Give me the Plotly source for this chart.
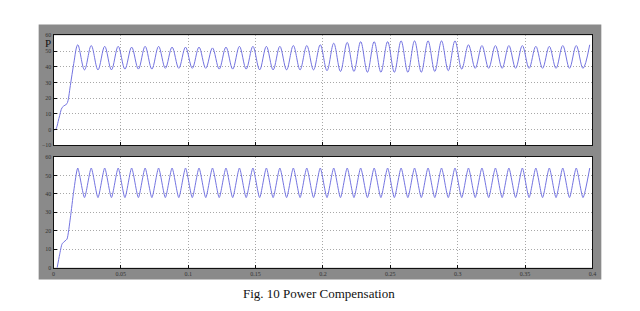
import plotly.graph_objects as go

# ---- data ----
x_ticks = [0, 0.05, 0.1, 0.15, 0.2, 0.25, 0.3, 0.35, 0.4]
x_tick_labels = ["0", "0.05", "0.1", "0.15", "0.2", "0.25", "0.3", "0.35", "0.4"]
top_y_ticks = [-10, 0, 10, 20, 30, 40, 50, 60]
bot_y_ticks = [0, 10, 20, 30, 40, 50, 60]

# start-up transient (time, value)
top_start_t = [0.0, 0.0015, 0.004, 0.0064, 0.0085, 0.010, 0.0125, 0.015]
top_start_v = [0.0, 0.0, 7.0, 14.0, 15.5, 16.5, 28.0, 42.0]
bot_start_t = [0.0027, 0.0045, 0.0064, 0.0085, 0.010, 0.0125, 0.015]
bot_start_v = [0.0, 7.0, 13.0, 14.5, 15.5, 27.0, 41.5]

# oscillation extrema (period 0.01 s, first peak at 0.018 s)
peak_t = [round(0.018 + 0.01 * k, 4) for k in range(39)]
trough_t = [round(0.023 + 0.01 * k, 4) for k in range(38)]

top_peaks = [54, 53.5, 53, 53, 52.5, 53, 53, 52.5, 52.5, 52.5,
             52, 52.5, 53, 53, 53, 53, 53.5, 53.5, 54, 55,
             55.5, 56, 56, 56, 56.5, 56.5, 56.5, 56.5, 56.5, 54,
             53.5, 53.5, 53.5, 53.5, 53, 53, 53.5, 53.5, 54]
top_troughs = [38, 38, 38, 38.5, 38.5, 38.5, 39, 39, 39, 39,
               38.5, 38.5, 38.5, 38, 38, 38, 38, 38, 37.5, 37,
               37, 36.5, 36.5, 36.5, 36.5, 36.5, 37, 37.5, 38.5, 39,
               39, 39, 39, 39, 39, 39, 39, 39]
bot_peaks = [54] * 39
bot_troughs = [38] * 38


def build(start_t, start_v, peaks, troughs):
    t = list(start_t)
    v = list(start_v)
    for k in range(len(peaks)):
        t.append(peak_t[k]); v.append(peaks[k])
        if k < len(troughs):
            t.append(trough_t[k]); v.append(troughs[k])
    return t, v


tt, tv = build(top_start_t, top_start_v, top_peaks, top_troughs)
bt, bv = build(bot_start_t, bot_start_v, bot_peaks, bot_troughs)

W, H = 640, 311
line_col = "#7373e0"

fig = go.Figure()
fig.add_trace(go.Scatter(x=tt, y=tv, mode="lines", line=dict(color=line_col, width=1, shape="spline", smoothing=1),
                         xaxis="x", yaxis="y", showlegend=False, hoverinfo="skip"))
fig.add_trace(go.Scatter(x=bt, y=bv, mode="lines", line=dict(color=line_col, width=1, shape="spline", smoothing=0.6),
                         xaxis="x2", yaxis="y2", showlegend=False, hoverinfo="skip"))

px0, px1 = 52, 596
top_y0, top_y1 = 33, 145
bot_y0, bot_y1 = 157, 270


def fx(p):
    return p / W


def fy(p):
    return 1 - p / H


axis_common = dict(showline=True, linecolor="#111", linewidth=1, mirror=True,
                   ticks="inside", ticklen=3, tickcolor="#111",
                   showgrid=True, gridcolor="#a8a8a8", griddash="1px,2px", gridwidth=1,
                   zeroline=False, tickfont=dict(size=6, color="#333", family="Liberation Serif"))

fig.update_layout(
    width=W, height=H,
    margin=dict(l=0, r=0, t=0, b=0),
    paper_bgcolor="white",
    plot_bgcolor="rgba(0,0,0,0)",
    xaxis=dict(domain=[fx(px0), fx(px1)], range=[0, 0.4], tickvals=x_ticks, showticklabels=False,
               anchor="y", **axis_common),
    yaxis=dict(domain=[fy(top_y1), fy(top_y0)], range=[-10, 60], tickvals=top_y_ticks,
               anchor="x", **axis_common),
    xaxis2=dict(domain=[fx(px0), fx(px1)], range=[0, 0.4], tickvals=x_ticks, ticktext=x_tick_labels,
                anchor="y2", **axis_common),
    yaxis2=dict(domain=[fy(bot_y1), fy(bot_y0)], range=[0, 60], tickvals=bot_y_ticks,
                anchor="x2", **axis_common),
    shapes=[
        dict(type="rect", xref="paper", yref="paper", x0=fx(37), x1=fx(605), y0=fy(282), y1=fy(22),
             fillcolor="#8a8a8a", line=dict(width=0), layer="below"),
        dict(type="rect", xref="paper", yref="paper", x0=fx(px0), x1=fx(px1), y0=fy(top_y1), y1=fy(top_y0),
             fillcolor="white", line=dict(width=0), layer="below"),
        dict(type="rect", xref="paper", yref="paper", x0=fx(px0), x1=fx(px1), y0=fy(bot_y1), y1=fy(bot_y0),
             fillcolor="white", line=dict(width=0), layer="below"),
    ],
    annotations=[
        dict(text="P", xref="paper", yref="paper", x=fx(46), y=fy(41), showarrow=False,
             font=dict(family="Liberation Serif", size=11, color="#111"), xanchor="center", yanchor="middle"),
        dict(text="Fig. 10 Power Compensation", xref="paper", yref="paper", x=fx(320), y=fy(296),
             showarrow=False, font=dict(family="Liberation Serif", size=13, color="#111"),
             xanchor="center", yanchor="middle"),
    ],
)

fig.write_html("out.html")
